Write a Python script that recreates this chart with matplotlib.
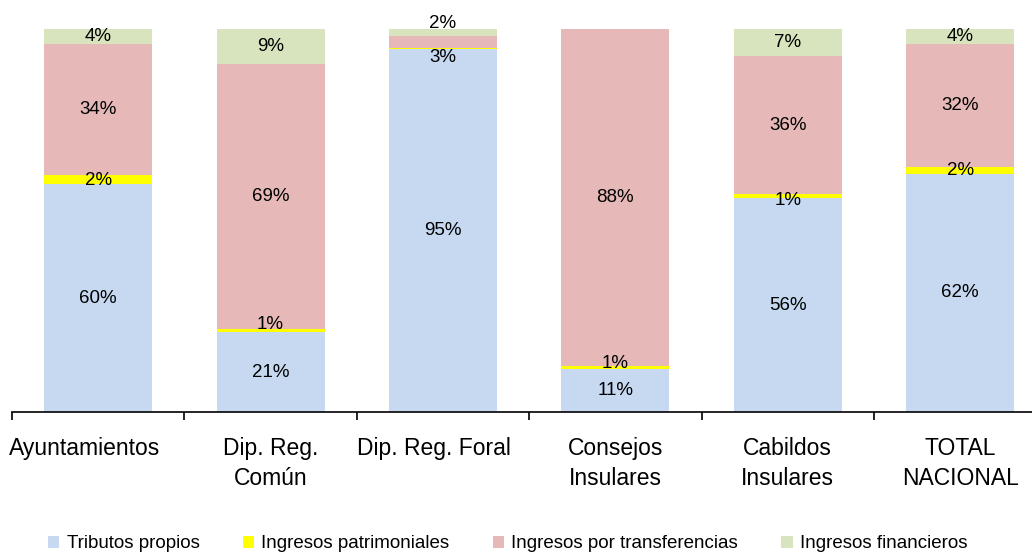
import matplotlib
matplotlib.use("Agg")
import matplotlib.pyplot as plt
import matplotlib.transforms as mtransforms
from matplotlib import font_manager
import numpy as np

# data (percent of revenue)
categories = ["Ayuntamientos", "Dip. Reg.\nComún", "Dip. Reg. Foral",
              "Consejos\nInsulares", "Cabildos\nInsulares", "TOTAL\nNACIONAL"]
series_names = ["Tributos propios", "Ingresos patrimoniales",
                "Ingresos por transferencias", "Ingresos financieros"]
tributos = [59.6, 21.0, 94.9, 11.2, 56.0, 62.3]
patrimoniales = [2.4, 0.7, 0.3, 0.9, 0.9, 1.7]
transferencias = [34.2, 69.3, 3.0, 87.9, 36.2, 32.2]
financieros = [3.8, 9.0, 1.8, 0.0, 6.9, 3.8]

colors = ["#C6D9F1", "#FFFF00", "#E6B9B8", "#D7E4BD"]

# label nudges (points) where Excel moved small labels
nudges = {(1, 1): 4, (2, 2): -11, (3, 2): 7, (1, 3): 3, (1, 4): -3, (1, 0): -1}
# horizontal shift (px) of wide category labels
label_shift = {0: -14, 2: -9}

names = [f.name for f in font_manager.fontManager.ttflist]
fam = "Liberation Sans Narrow" if "Liberation Sans Narrow" in names else "Liberation Sans"
plt.rcParams["font.family"] = [fam, "DejaVu Sans"]

fig = plt.figure(figsize=(10.32, 5.54), dpi=100)
ax = fig.add_axes([12 / 1032, 1 - 412.3 / 554, 1034.4 / 1032, 383 / 554])

x = np.arange(len(categories))
data = [tributos, patrimoniales, transferencias, financieros]
bottom = np.zeros(len(categories))
for s, (vals, col, name) in enumerate(zip(data, colors, series_names)):
    vals = np.array(vals)
    ax.bar(x, vals, width=0.626, bottom=bottom, color=col, label=name)
    for i, v in enumerate(vals):
        if round(v) < 1:
            continue
        ax.annotate(f"{round(v):d}%", (x[i], bottom[i] + v / 2),
                    xytext=(0, nudges.get((s, i), 0)), textcoords="offset points",
                    ha="center", va="center", fontsize=13.5)
    bottom += vals

ax.set_xlim(-0.5, 5.5)
ax.set_ylim(0, 100)
for side in ["left", "right", "top"]:
    ax.spines[side].set_visible(False)
ax.spines["bottom"].set_linewidth(1.2)
ax.set_yticks([])
ax.set_xticks(x)
ax.set_xticklabels(categories, fontsize=16.5, linespacing=1.35)
ax.tick_params(axis="x", which="major", length=0, pad=18)
ax.set_xticks(np.arange(-0.5, 6, 1), minor=True)
ax.tick_params(axis="x", which="minor", length=6, width=1.2, direction="out")

for i, lab in enumerate(ax.get_xticklabels()):
    if i in label_shift:
        off = mtransforms.ScaledTranslation(label_shift[i] / 100, 0, fig.dpi_scale_trans)
        lab.set_transform(lab.get_transform() + off)

fig.legend(loc="center", bbox_to_anchor=(0.492, 1 - 544 / 554), ncol=4,
           frameon=False, fontsize=13.5, handlelength=0.6, handleheight=0.6,
           handletextpad=0.4, columnspacing=2.3, borderpad=0)

fig.savefig("out.png", dpi=100)
